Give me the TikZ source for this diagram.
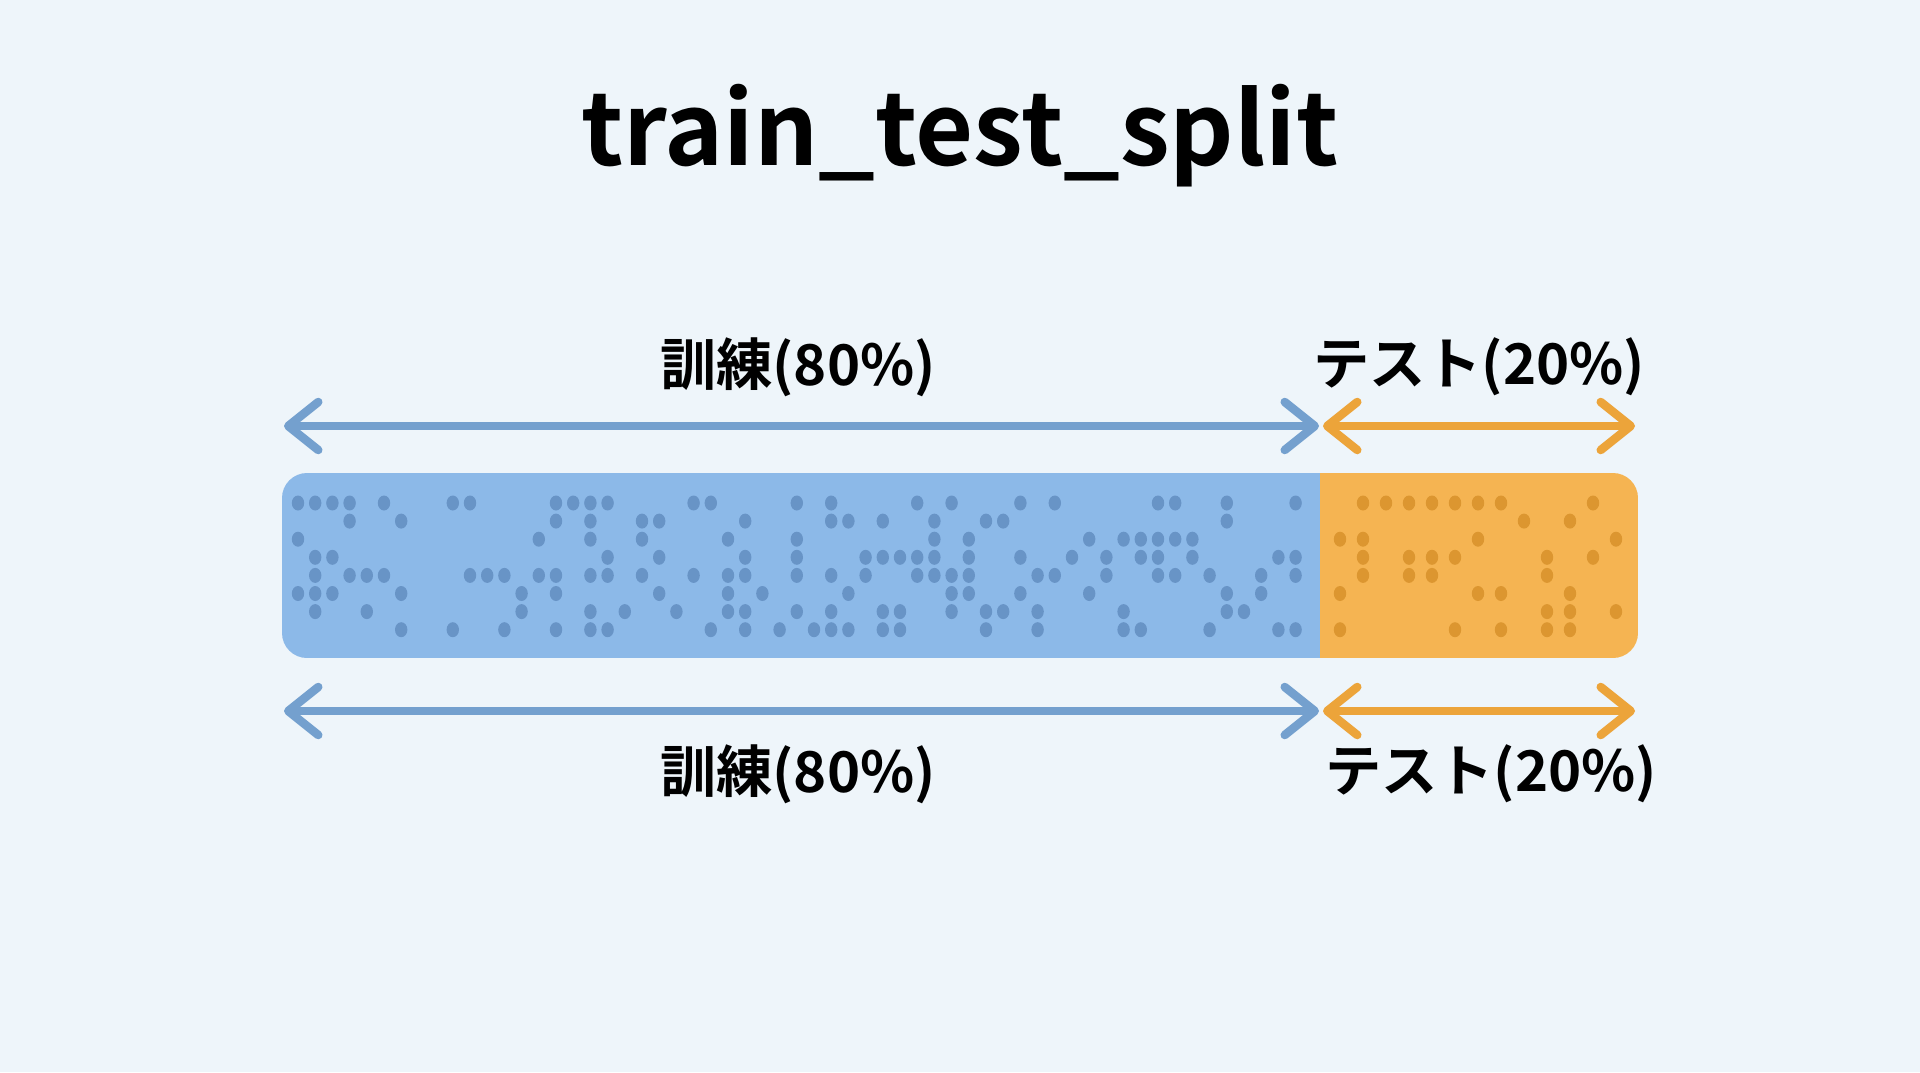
\documentclass[tikz,border=0pt]{standalone}
\usepackage{fontspec}
\setmainfont{Noto Sans CJK JP}[BoldFont={Noto Sans CJK JP Bold}]
\usetikzlibrary{arrows.meta}
\definecolor{bgcol}{RGB}{238,245,250}
\definecolor{trainbar}{RGB}{140,185,232}
\definecolor{trainline}{RGB}{116,160,206}
\definecolor{traindot}{RGB}{104,148,198}
\definecolor{testbar}{RGB}{245,180,82}
\definecolor{testline}{RGB}{236,164,58}
\definecolor{testdot}{RGB}{220,150,48}
\tikzset{lbl/.style={font=\fontsize{16}{19}\selectfont\bfseries,text=black,inner sep=0pt},
         span/.style={line width=0.085cm,<->,line cap=round},
         dot/.style={x radius=0.062cm,y radius=0.075cm}}

\begin{document}
\begin{tikzpicture}[x=0.01cm,y=-0.01cm,>={Straight Barb[length=0.3cm,width=0.48cm,round]}]
        \fill[bgcol] (0,0) rectangle (1920,1072);
        \useasboundingbox (0,0) rectangle (1920,1072);

        \node[font=\fontsize{28.5}{34}\selectfont\bfseries,anchor=base,inner sep=0pt] (title) at (960,165) {train\_test\_split};

        % the bar
        \pgfmathsetseed{1234}
        \begin{scope}
            \clip[rounded corners=0.25cm] (282,473) rectangle (1638,658);
            \fill[trainbar] (282,473) rectangle (1320,658);
            \fill[testbar] (1320,473) rectangle (1638,658);
            \foreach \i in {0,...,58}
                \foreach \j in {0,...,7} {
                    \pgfmathtruncatemacro\r{100*rnd}
                    \ifnum\r<36 \fill[traindot] (298+17.2*\i,503+18.1*\j) ellipse[dot]; \fi
                };
            \foreach \i in {0,...,12}
                \foreach \j in {0,...,7} {
                    \pgfmathtruncatemacro\r{100*rnd}
                    \ifnum\r<36 \fill[testdot] (1340+23*\i,503+18.1*\j) ellipse[dot]; \fi
                };
        \end{scope}

        \coordinate (trTL) at (284,426);
        \coordinate (trTR) at (1319,426);
        \coordinate (teTL) at (1323,426);
        \coordinate (teTR) at (1635,426);
        \coordinate (trBL) at (284,711);
        \coordinate (trBR) at (1319,711);
        \coordinate (teBL) at (1323,711);
        \coordinate (teBR) at (1635,711);

        \draw[span,trainline] (trTL) -- (trTR);
        \draw[span,testline] (teTL) -- (teTR);
        \draw[span,trainline] (trBL) -- (trBR);
        \draw[span,testline] (teBL) -- (teBR);

        \node[lbl] (trtop) at (798,367) {訓練(80\%)};
        \node[lbl] (tetop) at (1479,367) {テスト(20\%)};
        \node[lbl] (trbot) at (798,774) {訓練(80\%)};
        \node[lbl] (tebot) at (1491,774) {テスト(20\%)};
\end{tikzpicture}
\end{document}
